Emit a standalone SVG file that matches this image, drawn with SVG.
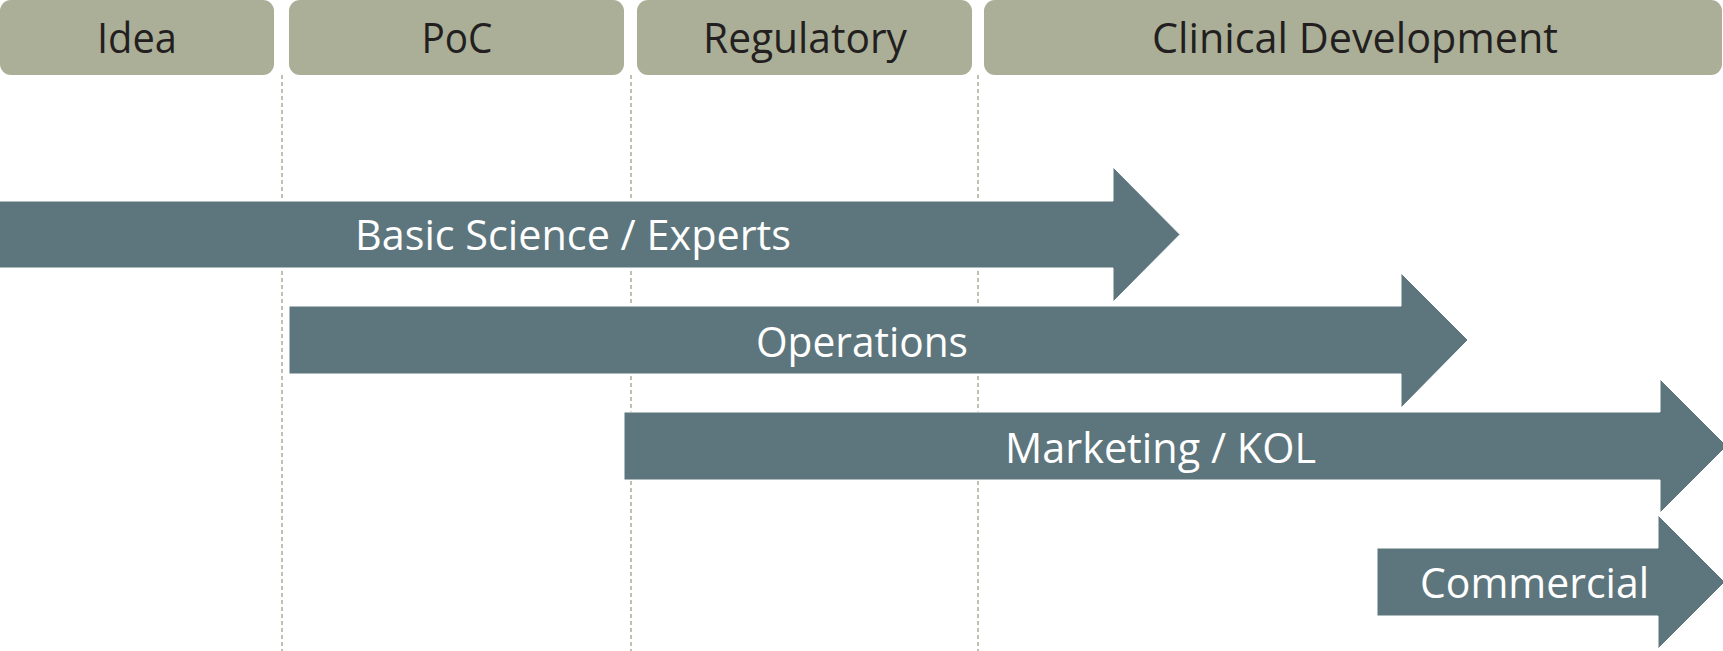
<svg xmlns="http://www.w3.org/2000/svg" width="1723" height="651" viewBox="0 0 1723 651">
<style>
.hdr{fill:#ABAF97}
.htxt{font-family:"Open Sans","Noto Sans",sans-serif;font-size:42px;fill:#231F20;text-anchor:middle}
.arr{fill:#5D757C;stroke:#ffffff;stroke-width:1}
.atxt{font-family:"Open Sans","Noto Sans",sans-serif;font-size:42px;fill:#ffffff}
.div{stroke:#A9AC97;stroke-width:1.5;stroke-dasharray:4 3;fill:none}
</style>
<rect width="1723" height="651" fill="#ffffff"/>
<g id="dividers">
<line class="div" x1="282" y1="75" x2="282" y2="651"/>
<line class="div" x1="631" y1="75" x2="631" y2="651"/>
<line class="div" x1="978" y1="75" x2="978" y2="651"/>
</g>
<g id="phase-idea">
<rect class="hdr" x="0" y="0" width="274" height="75" rx="11"/>
<text class="htxt" x="137" y="53" textLength="80" lengthAdjust="spacingAndGlyphs">Idea</text>
</g>
<g id="phase-poc">
<rect class="hdr" x="289" y="0" width="335" height="75" rx="11"/>
<text class="htxt" x="457" y="53" textLength="71" lengthAdjust="spacingAndGlyphs">PoC</text>
</g>
<g id="phase-regulatory">
<rect class="hdr" x="637" y="0" width="335" height="75" rx="11"/>
<text class="htxt" x="805" y="53" textLength="204" lengthAdjust="spacingAndGlyphs">Regulatory</text>
</g>
<g id="phase-clinical">
<rect class="hdr" x="984" y="0" width="738" height="75" rx="11"/>
<text class="htxt" x="1355" y="53" textLength="406" lengthAdjust="spacingAndGlyphs">Clinical Development</text>
</g>
<g id="connectors">
<g id="arrow-basic">
<polygon class="arr" points="-2,201 1113,201 1113,167 1180,234.5 1113,302 1113,268 -2,268"/>
<text class="atxt" x="355" y="250" textLength="436" lengthAdjust="spacingAndGlyphs">Basic Science / Experts</text>
</g>
<g id="arrow-operations">
<polygon class="arr" points="289,306 1401,306 1401,273 1468,340 1401,408 1401,374 289,374"/>
<text class="atxt" x="756" y="357" textLength="212" lengthAdjust="spacingAndGlyphs">Operations</text>
</g>
<g id="arrow-marketing">
<polygon class="arr" points="624,412 1660,412 1660,379 1727,446 1660,513 1660,480 624,480"/>
<text class="atxt" x="1005" y="463" textLength="311" lengthAdjust="spacingAndGlyphs">Marketing / KOL</text>
</g>
<g id="arrow-commercial">
<polygon class="arr" points="1377,548 1658,548 1658,515 1725,582 1658,649 1658,616 1377,616"/>
<text class="atxt" x="1420" y="598" textLength="229" lengthAdjust="spacingAndGlyphs">Commercial</text>
</g>
</g>
</svg>
